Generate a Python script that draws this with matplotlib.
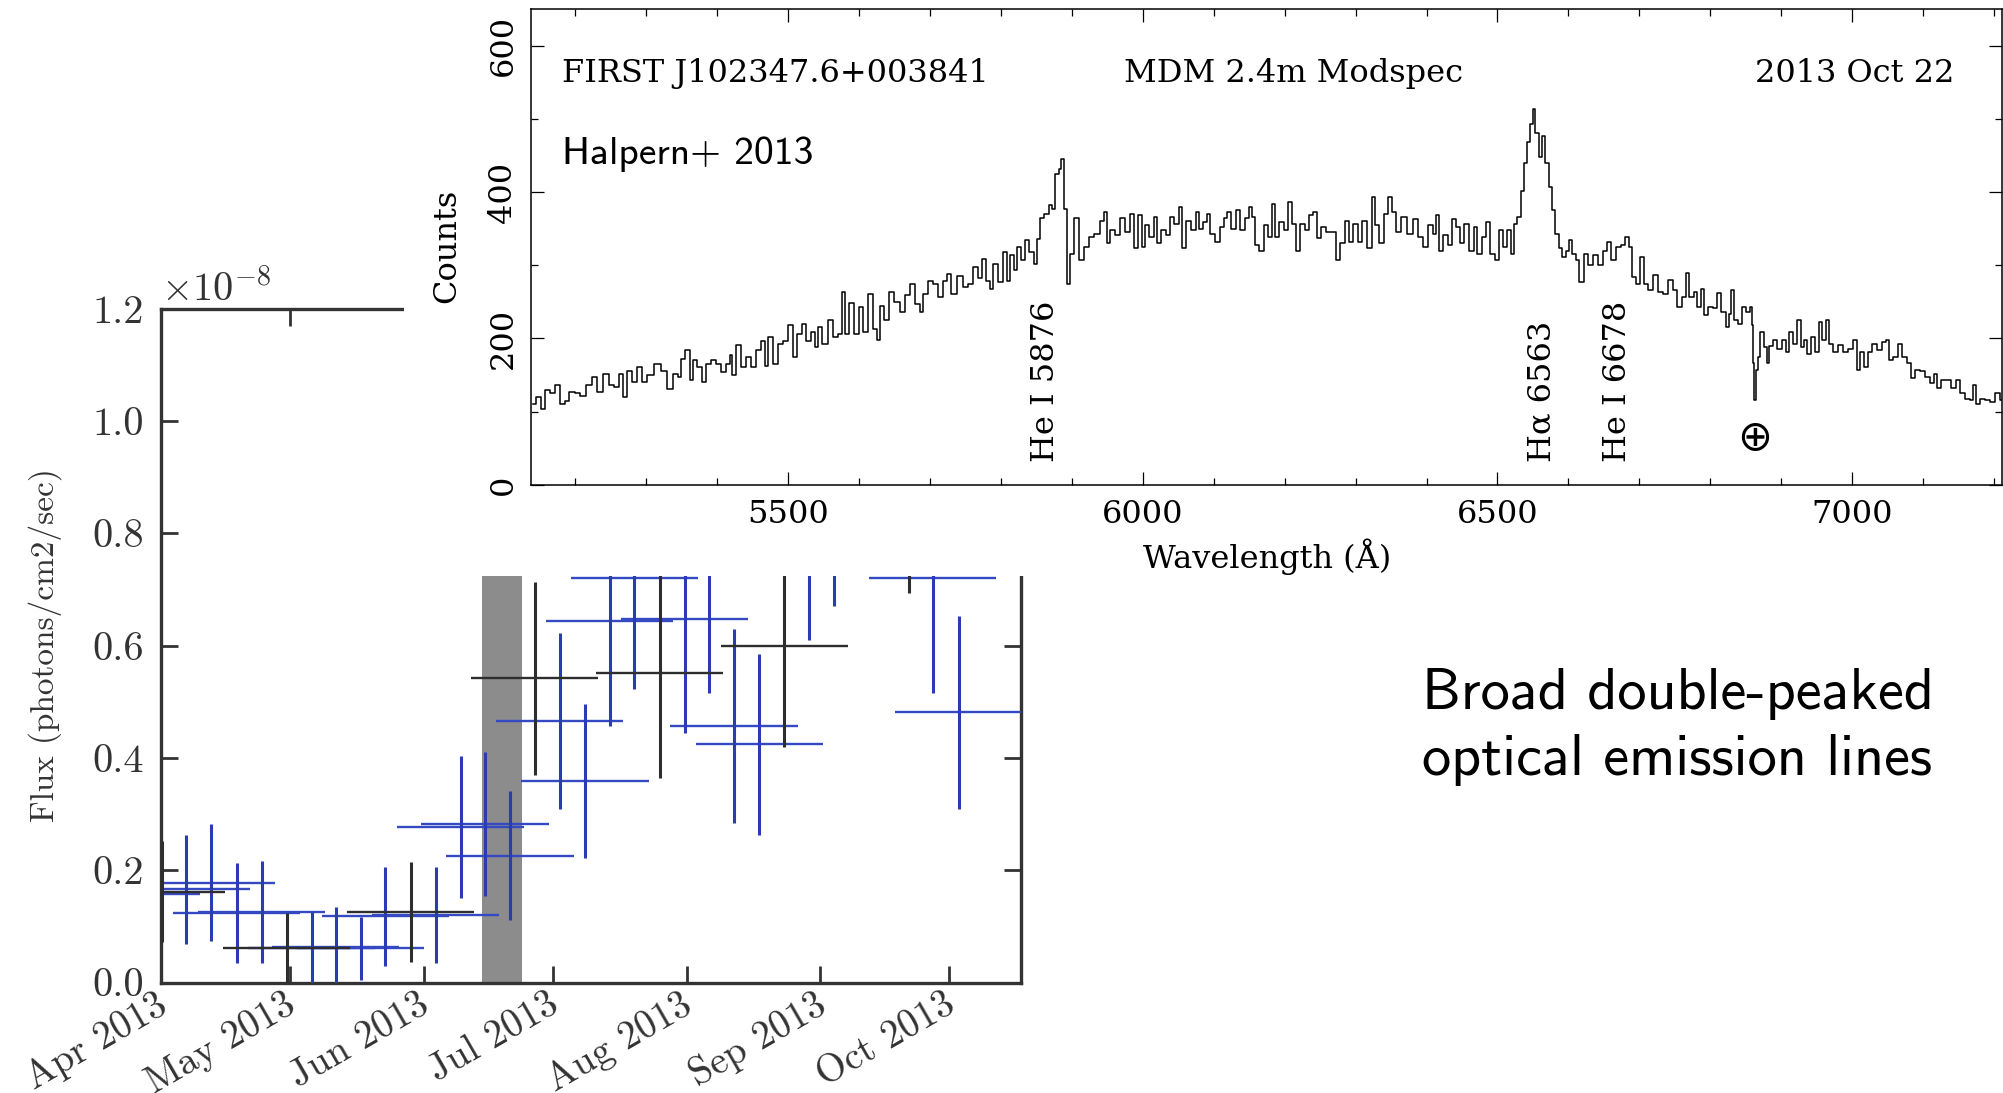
import datetime as dt
import matplotlib
matplotlib.use("Agg")
import matplotlib.pyplot as plt
import matplotlib.dates as mdates
import matplotlib.transforms as mtransforms
from matplotlib.patches import Rectangle
from matplotlib.ticker import MultipleLocator, FixedLocator, FixedFormatter

plt.rcParams['mathtext.fontset'] = 'cm'
plt.rcParams['axes.unicode_minus'] = False

# ---------------- data: gamma-ray light curve (units of 1e-8 photons/cm2/s) ----------------
base_date = dt.datetime(2013, 4, 1)
bin_halfwidth_days = 14.75

blue_day = [-5.8, 5.8, 11.6, 17.6, 23.4, 35.0, 40.6, 46.4, 52.1, 63.8, 69.6, 75.2, 81.0,
            92.5, 98.4, 104.1, 109.8, 121.6, 127.2, 133.0, 138.9, 150.3, 156.1, 179.1, 185.1]
blue_flux = [0.157, 0.166, 0.178, 0.123, 0.125, 0.062, 0.064, 0.061, 0.118, 0.120, 0.277, 0.282, 0.226,
             0.466, 0.359, 0.643, 0.721, 0.648, 0.74, 0.457, 0.424, 0.80, 0.86, 0.721, 0.481]
blue_err = [0.09, 0.097, 0.104, 0.089, 0.091, 0.064, 0.071, 0.056, 0.088, 0.086, 0.126, 0.128, 0.115,
            0.157, 0.137, 0.187, 0.198, 0.204, 0.225, 0.173, 0.161, 0.19, 0.19, 0.206, 0.172]

black_day = [0.2, 29.2, 58.0, 86.7, 115.8, 144.7, 173.5]
black_flux = [0.162, 0.061, 0.126, 0.542, 0.551, 0.599, 0.88]
black_err = [0.09, 0.062, 0.089, 0.172, 0.186, 0.18, 0.187]

band_start_day, band_end_day = 74.4, 83.7
flux_ticks = [0.0, 0.2, 0.4, 0.6, 0.8, 1.0, 1.2]
flux_ticklabels = ['0.0', '0.2', '0.4', '0.6', '0.8', '1.0', '1.2']

# ---------------- data: optical spectrum ----------------
wavelength = [5141, 5148, 5155, 5160, 5169, 5176, 5183, 5188, 5195, 5204, 5211, 5221, 5228, 5235, 5244,
              5251, 5258, 5265, 5270, 5277, 5284, 5291, 5298, 5305, 5317, 5326, 5334, 5341, 5348, 5352,
              5359, 5364, 5369, 5376, 5381, 5388, 5395, 5402, 5409, 5416, 5420, 5423, 5430, 5437, 5444,
              5451, 5458, 5465, 5470, 5475, 5482, 5489, 5496, 5505, 5510, 5517, 5522, 5529, 5536, 5540,
              5545, 5552,
              5560, 5567, 5574, 5578, 5583, 5590, 5597, 5604, 5609, 5616, 5623, 5628, 5632, 5639, 5646,
              5654, 5661, 5668, 5675, 5682, 5689, 5693, 5701, 5708, 5715, 5722, 5726, 5733, 5743, 5750,
              5757, 5764, 5771, 5776, 5783, 5787, 5792, 5799, 5806, 5811, 5816, 5820, 5825, 5832, 5837,
              5844, 5849, 5853, 5858, 5865, 5870, 5874, 5879, 5884, 5887, 5891, 5896, 5900, 5907, 5914,
              5921, 5928, 5936, 5943, 5947, 5952, 5957, 5964,
              5971, 5978, 5985, 5990, 5997, 6001, 6006, 6013, 6018, 6022, 6030, 6037, 6041, 6048, 6053,
              6058, 6065, 6072, 6077, 6081, 6088, 6093, 6098, 6105, 6112, 6116, 6121, 6128, 6135, 6140,
              6147, 6152, 6156, 6161, 6168, 6173, 6180, 6185, 6189, 6196, 6203, 6208, 6213, 6218, 6225,
              6232, 6236, 6243, 6248, 6255, 6262, 6269, 6276, 6281, 6288, 6293, 6300, 6307, 6312, 6319,
              6326, 6330, 6337, 6342, 6349, 6354, 6359, 6368,
              6377, 6384, 6391, 6399, 6406, 6413, 6415, 6420, 6427, 6434, 6438, 6445, 6450, 6457, 6464,
              6469, 6474, 6481, 6486, 6492, 6500, 6504, 6511, 6516, 6521, 6525, 6530, 6535, 6539, 6544,
              6549, 6551, 6556, 6561, 6565, 6570, 6575, 6579, 6584, 6589, 6594, 6598, 6603, 6608, 6612,
              6619, 6624, 6631, 6638, 6645, 6652, 6657, 6664, 6671, 6678, 6682, 6688, 6692, 6699, 6704,
              6709, 6716, 6723, 6730, 6737, 6744, 6751, 6756, 6763, 6767, 6774,
              6779, 6784, 6789, 6793, 6800, 6807, 6812, 6819, 6824, 6828, 6831, 6836, 6843, 6847, 6854,
              6858, 6859, 6861, 6863, 6865, 6868, 6873, 6878, 6881, 6885, 6892, 6897, 6904, 6908, 6913,
              6920, 6925, 6930, 6934, 6939, 6944, 6951, 6955, 6960, 6965, 6969, 6977, 6984, 6991, 6998,
              7005, 7009, 7014, 7019, 7026, 7031, 7038, 7045, 7049, 7054, 7061, 7068, 7073, 7080, 7085,
              7092, 7099, 7106, 7113, 7118, 7122, 7129, 7136, 7143, 7150, 7155, 7162, 7169, 7172, 7176,
              7183, 7190, 7197, 7204, 7212]
counts = [111, 120, 104, 129, 125, 136, 111, 115, 127, 125, 122, 136, 147, 127, 151,
          136, 134, 152, 120, 156, 140, 161, 140, 150, 165, 156, 131, 152, 147, 172,
          184, 143, 170, 161, 140, 165, 170, 165, 154, 165, 177, 150, 191, 161, 175,
          161, 184, 197, 163, 202, 165, 193, 197, 218, 175, 206, 220, 197, 209, 188,
          216, 193,
          225, 202, 206, 263, 206, 248, 206, 243, 209, 261, 213, 198, 245, 225, 263,
          250, 236, 259, 275, 247, 236, 261, 279, 275, 257, 279, 288, 261, 286, 270,
          275, 298, 282, 309, 279, 268, 302, 277, 318, 279, 314, 293, 325, 307, 334,
          318, 302, 336, 364, 370, 382, 377, 425, 432, 445, 377, 275, 316, 364, 307,
          325, 339, 343, 361, 373, 330, 348, 341,
          364, 345, 370, 323, 368, 325, 355, 339, 366, 330, 348, 341, 366, 357, 380,
          323, 361, 348, 373, 350, 359, 370, 343, 332, 352, 364, 373, 350, 375, 348,
          364, 380, 366, 327, 320, 355, 339, 384, 339, 359, 348, 386, 357, 320, 357,
          348, 368, 373, 337, 352, 345, 345, 307, 330, 361, 332, 357, 332, 361, 323,
          393, 355, 330, 370, 393, 373, 345, 366,
          343, 363, 339, 325, 355, 343, 368, 320, 341, 327, 363, 352, 330, 357, 320,
          352, 316, 339, 359, 316, 307, 348, 325, 348, 316, 357, 366, 402, 439, 468,
          493, 514, 480, 448, 477, 439, 407, 375, 343, 323, 311, 320, 334, 316, 307,
          277, 316, 300, 314, 300, 320, 332, 307, 325, 327, 339, 325, 284, 275, 311,
          275, 266, 287, 264, 261, 280, 266, 243, 257, 289, 257,
          264, 243, 268, 232, 243, 241, 262, 236, 216, 234, 266, 225, 220, 243, 236,
          243, 218, 166, 116, 157, 175, 209, 188, 166, 190, 198, 186, 198, 182, 209,
          193, 225, 188, 198, 179, 202, 182, 222, 198, 225, 193, 182, 191, 182, 186,
          198, 157, 182, 161, 182, 193, 184, 195, 198, 170, 175, 193, 175, 166, 146,
          157, 155, 148, 139, 152, 132, 143, 143, 132, 143, 125, 118, 116, 137, 111,
          118, 116, 113, 125, 116]

line_labels = ['He I 5876', 'H\u03b1 6563', 'He I 6678']
line_label_x = [5863, 6563, 6669]

# ---------------- figure ----------------
W, H = 2003, 1093
fig = plt.figure(figsize=(W / 100, H / 100), dpi=100)

# ---- light curve panel ----
fax = fig.add_axes([161 / W, 1 - 982.5 / H, (1021 - 161) / W, (982.5 - 308.7) / H])
fax.set_zorder(0)
x0 = mdates.date2num(base_date)
fax.axvspan(x0 + band_start_day, x0 + band_end_day, color='#8c8c8c', lw=0, zorder=1)

bx = [x0 + d for d in blue_day]
kx = [x0 + d for d in black_day]
blue_h, blue_v = '#3549c2', '#2b3cb2'
black_c = '#2e2e2e'
fax.hlines(blue_flux, [x - bin_halfwidth_days for x in bx], [x + bin_halfwidth_days for x in bx],
           colors=blue_h, lw=1.7, zorder=3)
fax.vlines(bx, [f - e for f, e in zip(blue_flux, blue_err)], [f + e for f, e in zip(blue_flux, blue_err)],
           colors=blue_v, lw=2.2, zorder=3)
fax.hlines(black_flux, [x - bin_halfwidth_days for x in kx], [x + bin_halfwidth_days for x in kx],
           colors=black_c, lw=1.7, zorder=3)
fax.vlines(kx, [f - e for f, e in zip(black_flux, black_err)], [f + e for f, e in zip(black_flux, black_err)],
           colors=black_c, lw=2.2, zorder=3)

fax.set_xlim(x0, x0 + 199.6)
fax.set_ylim(0, 1.2)
fax.xaxis.set_major_locator(mdates.MonthLocator())
fax.xaxis.set_major_formatter(mdates.DateFormatter('%b %Y'))
fax.yaxis.set_major_locator(FixedLocator(flux_ticks))
fax.yaxis.set_major_formatter(FixedFormatter(flux_ticklabels))
for s in fax.spines.values():
    s.set_linewidth(2.4)
    s.set_color('#333333')
fax.tick_params(which='both', direction='in', length=12, width=2.0, color='#333333',
                top=True, right=True, labelsize=29, labelcolor='#333333', labelfontfamily='cmr10')
fax.tick_params(axis='y', pad=12)
fax.tick_params(axis='x', pad=3, labelsize=28, labelrotation=30)
shift = mtransforms.ScaledTranslation(-6 / 100, 0, fig.dpi_scale_trans)
for lab in fax.get_xticklabels():
    lab.set_ha('right')
    lab.set_rotation_mode('anchor')
    lab.set_transform(lab.get_transform() + shift)
fax.text(0.0, 1.012, r'$\times10^{-8}$', transform=fax.transAxes, ha='left', va='baseline',
         fontsize=29, color='#333333')
fig.text(45 / W, 1 - 645 / H, 'Flux (photons/cm2/sec)', rotation=90, ha='center', va='center',
         fontsize=24, family='cmr10', color='#333333')

# ---- white cover of the spectrum panel ----
fig.add_artist(Rectangle((404 / W, 1 - 576 / H), 1 - 404 / W, 576 / H, transform=fig.transFigure,
                         facecolor='white', edgecolor='none', zorder=1))

# ---- spectrum panel ----
sax = fig.add_axes([531 / W, 1 - 484.9 / H, (2002 - 531) / W, (484.9 - 9) / H])
sax.set_zorder(2)
sax.step(wavelength, counts, where='mid', color='black', lw=1.1)
sax.set_xlim(5138, 7211)
sax.set_ylim(0, 650)
sax.xaxis.set_major_locator(MultipleLocator(500))
sax.xaxis.set_minor_locator(MultipleLocator(100))
sax.yaxis.set_major_locator(MultipleLocator(200))
sax.yaxis.set_minor_locator(MultipleLocator(100))
for s in sax.spines.values():
    s.set_linewidth(1.1)
sax.tick_params(which='both', direction='in', top=True, right=True, width=0.9,
                labelsize=23, labelfontfamily='DejaVu Serif')
sax.tick_params(which='major', length=9.4)
sax.tick_params(which='minor', length=5)
sax.tick_params(axis='x', pad=10)
sax.tick_params(axis='y', pad=9, labelrotation=90)
for lab in sax.get_yticklabels():
    lab.set_va('center')

serif = 'DejaVu Serif'
sax.text(5182, 550, 'FIRST J102347.6+003841', family=serif, fontsize=23, va='baseline', ha='left')
sax.text(5974, 550, 'MDM 2.4m Modspec', family=serif, fontsize=23, va='baseline', ha='left')
sax.text(7144, 550, '2013 Oct 22', family=serif, fontsize=23, va='baseline', ha='right')
sax.text(5182, 438, 'Halpern+ 2013', family='cmss10', fontsize=28.5, va='baseline', ha='left')
for lab, lx in zip(line_labels, line_label_x):
    sax.text(lx, 31, lab, family=serif, fontsize=23, rotation=90, ha='center', va='bottom')
sax.text(6862, 64, '\u2295', family='DejaVu Sans', fontsize=30, ha='center', va='center')

fig.text(447 / W, 1 - 246 / H, 'Counts', rotation=90, ha='center', va='center', family=serif, fontsize=23)
fig.text(1267 / W, 1 - 557 / H, 'Wavelength (\u00c5)', ha='center', va='center', family=serif, fontsize=23)

# ---- annotation ----
fig.text(1422 / W, 1 - 709 / H, 'Broad double-peaked', family='cmss10', fontsize=42, ha='left', va='baseline')
fig.text(1422 / W, 1 - 775 / H, 'optical emission lines', family='cmss10', fontsize=42, ha='left', va='baseline')

fig.savefig('out.png', dpi=100)
